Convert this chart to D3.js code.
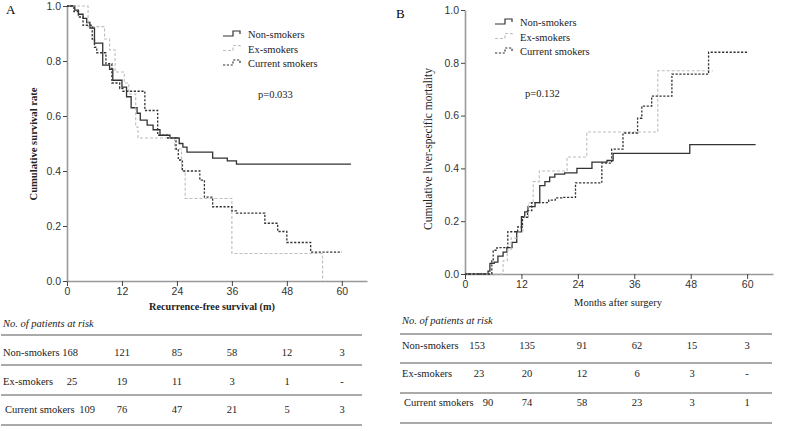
<!DOCTYPE html>
<html><head><meta charset="utf-8">
<script src="https://cdn.jsdelivr.net/npm/d3@7"></script>
<style>
body{margin:0;background:#fff;}
svg{display:block;}
</style></head>
<body><svg id="c" width="785" height="431"></svg>
<script>
// ---------- DATA ----------
const seriesNames = ["Non-smokers", "Ex-smokers", "Current smokers"];
const xTicks = [0, 12, 24, 36, 48, 60];
const yTicks = [0, 0.2, 0.4, 0.6, 0.8, 1.0];

// Panel A: recurrence-free survival, [month, survival]
const survA_non = [[0,1],[1.7,0.985],[2.5,0.97],[3.5,0.955],[4.3,0.94],[5,0.92],[6,0.865],[7.8,0.785],[9.3,0.77],[10,0.73],[12,0.705],[13,0.67],[14,0.63],[15.3,0.61],[16,0.585],[17.5,0.567],[18.8,0.55],[20.3,0.53],[22.5,0.52],[24.5,0.5],[25.3,0.487],[26.2,0.469],[31.8,0.447],[35,0.437],[37,0.425],[62,0.425]];
const survA_ex = [[0,1],[4.6,0.925],[8.2,0.88],[9.3,0.84],[10.5,0.76],[12.5,0.72],[13.5,0.68],[15,0.56],[15.5,0.52],[23.5,0.48],[25,0.40],[25.8,0.30],[36,0.10],[55.8,0.0]];
const survA_cur = [[0,1],[1.5,0.98],[2.5,0.96],[3.5,0.93],[5.5,0.88],[6,0.85],[6.5,0.83],[8.5,0.79],[9.8,0.72],[11.5,0.70],[12.2,0.69],[17,0.62],[19.8,0.53],[22,0.52],[23.8,0.48],[24.3,0.44],[25.2,0.40],[29,0.367],[30,0.305],[31.8,0.27],[36,0.255],[37,0.247],[43.2,0.21],[46,0.18],[48,0.14],[53.2,0.105],[60,0.105]];

// Panel B: cumulative liver-specific mortality, [month, mortality]
const mortB_non = [[0,0],[4.9,0.011],[5.3,0.04],[6.2,0.045],[7,0.068],[8.1,0.083],[8.9,0.10],[10,0.12],[11,0.16],[12,0.217],[12.7,0.235],[13.4,0.255],[14.9,0.27],[15.9,0.335],[17,0.35],[18,0.367],[19.1,0.378],[21.2,0.383],[23.8,0.40],[27,0.424],[30.2,0.43],[31.5,0.457],[47.8,0.49],[61.8,0.49]];
const mortB_ex = [[0,0],[8.1,0.05],[9,0.09],[9.8,0.136],[11.2,0.16],[12.3,0.216],[13.5,0.27],[14.5,0.35],[15.8,0.39],[21.7,0.443],[25.9,0.538],[41,0.77],[52.7,0.77]];
const mortB_cur = [[0,0],[5.7,0.05],[6,0.09],[6.8,0.10],[9.1,0.16],[11.2,0.178],[12.2,0.215],[13.3,0.24],[14.2,0.27],[17.8,0.28],[19.2,0.288],[20.6,0.29],[23.5,0.345],[29.1,0.42],[31.2,0.473],[33.6,0.534],[36.7,0.59],[37.6,0.636],[39.7,0.674],[44,0.757],[51.8,0.84],[60,0.84]];

// Numbers at risk
const riskA_non = [168,121,85,58,12,3];
const riskA_ex = [25,19,11,3,1,"-"];
const riskA_cur = [109,76,47,21,5,3];
const riskB_non = [153,135,91,62,15,3];
const riskB_ex = [23,20,12,6,3,"-"];
const riskB_cur = [90,74,58,23,3,1];

// ---------- DRAW ----------
const svg = d3.select("#c");
const serif = "'Liberation Serif','Times New Roman',serif";
const sans = "'Liberation Sans',Arial,sans-serif";
const styles = [
  {stroke:"#333", dash:null, w:1.3},
  {stroke:"#bdbdbd", dash:"3,2", w:1.1},
  {stroke:"#333", dash:"2.2,1.6", w:1.3}
];

function panel(o){
  const x = d3.scaleLinear().domain([0,65.5]).range([o.x0,o.x1]);
  const y = d3.scaleLinear().domain([0,1]).range([o.y0,o.y1]);
  const g = svg.append("g");
  // axes
  const ax = g.append("g").attr("transform",`translate(0,${o.y0})`)
    .call(d3.axisBottom(x).tickValues(xTicks).tickSize(5).tickPadding(2).tickSizeOuter(0).tickFormat(d3.format("d")));
  const ay = g.append("g").attr("transform",`translate(${o.x0},0)`)
    .call(d3.axisLeft(y).tickValues(yTicks).tickSize(4).tickPadding(2).tickSizeOuter(0).tickFormat(d3.format(".1f")));
  [ax,ay].forEach(a=>{
    a.select(".domain").attr("stroke","#999").attr("stroke-width",1.6);
    a.selectAll(".tick line").attr("stroke","#444").attr("stroke-width",1);
    a.selectAll(".tick text").attr("font-family",sans).attr("font-size",10.5).attr("fill","#333");
  });
  // curves
  const line = d3.line().x(d=>x(d[0])).y(d=>y(d[1])).curve(d3.curveStepAfter);
  o.series.forEach((s,i)=>{
    g.append("path").datum(s).attr("d",line).attr("fill","none")
      .attr("stroke",styles[i].stroke).attr("stroke-width",styles[i].w)
      .attr("stroke-dasharray",styles[i].dash);
  });
  // panel letter
  g.append("text").attr("x",o.lx).attr("y",o.ly).text(o.letter)
    .attr("font-family",serif).attr("font-size",13);
  // legend
  seriesNames.forEach((n,i)=>{
    const ly = o.legY + i*14.5;
    const lx = o.legX;
    g.append("path").attr("d",`M${lx},${ly+2} H${lx+10} V${ly-3} H${lx+17} V${ly}`)
      .attr("fill","none").attr("stroke",styles[i].stroke).attr("stroke-width",1.2)
      .attr("stroke-dasharray",styles[i].dash);
    g.append("text").attr("x",lx+25).attr("y",ly+4).text(n)
      .attr("font-family",serif).attr("font-size",10.5).attr("fill","#222");
  });
  g.append("text").attr("x",o.px).attr("y",o.py).text(o.p)
    .attr("font-family",serif).attr("font-size",10.5).attr("fill","#222");
  // axis titles
  g.append("text").attr("x",o.xtX).attr("y",o.xtY).attr("text-anchor","middle")
    .text(o.xTitle).attr("font-family",serif).attr("font-size",o.xtSize)
    .attr("font-weight",o.bold?"bold":"normal").attr("fill","#222");
  g.append("text").attr("transform",`translate(${o.ytX},${o.ytY}) rotate(-90)`).attr("text-anchor","middle")
    .text(o.yTitle).attr("font-family",serif).attr("font-size",o.ytSize)
    .attr("font-weight",o.bold?"bold":"normal").attr("fill","#222");
  // risk table
  const tx = d3.scaleLinear().domain([0,60]).range(o.tRange);
  g.append("text").attr("x",o.tLeft).attr("y",o.tTitleY).text("No. of patients at risk")
    .attr("font-family",serif).attr("font-size",10.5).attr("font-style","italic").attr("fill","#222");
  o.tLines.forEach(ly=>{
    g.append("line").attr("x1",o.tLeft-2).attr("x2",o.tRight).attr("y1",ly).attr("y2",ly)
      .attr("stroke","#555").attr("stroke-width",1);
  });
  o.risk.forEach((r,i)=>{
    const ry = o.tRowY[i];
    g.append("text").attr("x",o.tLeft+(i===2?2:0)).attr("y",ry).text(seriesNames[i])
      .attr("font-family",serif).attr("font-size",10.5).attr("fill","#222");
    r.forEach((v,j)=>{
      g.append("text").attr("x",tx(xTicks[j])+(j===0?o.firstOff[i]:0)).attr("y",ry)
        .attr("text-anchor","middle").text(v)
        .attr("font-family",serif).attr("font-size",10.5).attr("fill","#222");
    });
  });
}

panel({x0:67,x1:367,y0:281,y1:6,letter:"A",lx:6,ly:14,
  series:[survA_non,survA_ex,survA_cur],
  legX:223,legY:34,p:"p=0.033",px:258,py:98,
  xTitle:"Recurrence-free survival (m)",xtX:212,xtY:310,xtSize:10.2,bold:true,
  yTitle:"Cumulative survival rate",ytX:37,ytY:144,ytSize:10.6,
  tRange:[67,342],tLeft:3,tRight:362,tTitleY:327,tLines:[335,365,395,425],
  tRowY:[356,385,413],firstOff:[3,5,20],
  risk:[riskA_non,riskA_ex,riskA_cur]});

panel({x0:465,x1:773,y0:274,y1:10,letter:"B",lx:396,ly:18,
  series:[mortB_non,mortB_ex,mortB_cur],
  legX:495,legY:22,p:"p=0.132",px:525,py:97,
  xTitle:"Months after surgery",xtX:618,xtY:306,xtSize:10.5,bold:false,
  yTitle:"Cumulative liver-specific mortality",ytX:432,ytY:149,ytSize:11.5,
  tRange:[472,747],tLeft:402,tRight:772,tTitleY:324,tLines:[334,363,393,423],
  tRowY:[349,377,406],firstOff:[5,7,16],
  risk:[riskB_non,riskB_ex,riskB_cur]});
</script></body></html>
